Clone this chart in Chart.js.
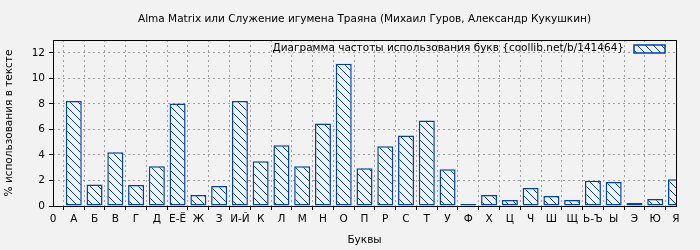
<!DOCTYPE html>
<html><head><meta charset="utf-8">
<script src="https://cdn.jsdelivr.net/npm/chart.js@4/dist/chart.umd.min.js"></script>
<style>html,body{margin:0;padding:0;background:#f2f2f2;} #w{width:700px;height:250px;}</style>
</head><body><div id="w"><canvas id="c" width="700" height="250"></canvas></div>
<script>
const chartTitle = 'Alma Matrix или Служение игумена Траяна (Михаил Гуров, Александр Кукушкин)';
const seriesLabel = 'Диаграмма частоты использования букв {coollib.net/b/141464}';
const xTitle = 'Буквы';
const yTitle = '% использования в тексте';
const tickLabels = ['0','А','Б','В','Г','Д','Е-Ё','Ж','З','И-Й','К','Л','М','Н','О','П','Р','С','Т','У','Ф','Х','Ц','Ч','Ш','Щ','Ь-Ъ','Ы','Э','Ю','Я'];
const letters = tickLabels.slice(1);
const values = [8.23,1.69,4.21,1.64,3.12,8.03,0.86,1.56,8.23,3.51,4.75,3.12,6.47,11.14,2.96,4.68,5.53,6.70,2.88,0.16,0.86,0.47,1.40,0.78,0.47,1.97,1.87,0.23,0.55,2.10];

const BLUE = '#0040b0';
const BG = '#f2f2f2';
const FONT = "'DejaVu Sans', sans-serif";

function hatch(){
  const p = document.createElement('canvas'); p.width = 8; p.height = 8;
  const g = p.getContext('2d');
  g.fillStyle = BG; g.fillRect(0,0,8,8);
  g.strokeStyle = BLUE; g.lineWidth = 1;
  g.beginPath();
  g.moveTo(-1,-1); g.lineTo(9,9);
  g.moveTo(-1,7); g.lineTo(1,9);
  g.moveTo(7,-1); g.lineTo(9,1);
  g.stroke();
  return g.createPattern(p,'repeat');
}
const pattern = hatch();

const bgPlugin = {
  id:'bg',
  beforeDraw(chart){ const c=chart.ctx; c.save(); c.fillStyle=BG; c.fillRect(0,0,chart.width,chart.height); c.restore(); }
};
const framePlugin = {
  id:'frame',
  afterDraw(chart){
    const a=chart.chartArea, c=chart.ctx;
    c.save(); c.strokeStyle='#000'; c.lineWidth=1;
    c.strokeRect(Math.round(a.left)+0.5, Math.round(a.top)+0.5, Math.round(a.right-a.left), Math.round(a.bottom-a.top));
    // title, centred over the plot area
    c.font = "10.5px " + FONT; c.fillStyle='#000'; c.textAlign='center'; c.textBaseline='middle';
    c.fillText(chartTitle, (a.left+a.right)/2, 19);
    // legend
    const label = chart.data.datasets[0].label;
    c.textAlign='right';
    c.fillText(label, a.right-52, a.top+8);
    c.fillStyle = pattern; c.fillRect(a.right-42, a.top+5, 31, 8);
    c.strokeStyle = BLUE; c.lineWidth = 1.5; c.strokeRect(a.right-42, a.top+5, 31, 8);
    c.restore();
  }
};

new Chart(document.getElementById('c'), {
  type:'bar',
  data:{ datasets:[{
    label: seriesLabel,
    data: letters.map((l,i)=>({x:i+1, y:values[i]})),
    backgroundColor: pattern,
    borderColor: BLUE,
    borderWidth: 1.5,
    borderSkipped: false,
    barPercentage: 0.77,
    categoryPercentage: 1
  }]},
  options:{
    responsive:false, animation:false, devicePixelRatio:1,
    layout:{ padding:{ left:0, right:24, top:40, bottom:0 } },
    plugins:{
      legend:{ display:false },
      tooltip:{ enabled:false },
      title:{ display:false }
    },
    scales:{
      x:{ type:'linear', min:0, max:30, offset:false,
        ticks:{ stepSize:1, autoSkip:false, maxRotation:0, minRotation:0, includeBounds:false,
          color:'#000', font:{ family:FONT, size:10.5 }, padding:3,
          callback:(v)=>tickLabels[v] },
        grid:{ color:'#a0a0a0', tickColor:'#000', tickLength:4, lineWidth:1 },
        border:{ display:false, dash:[2,3] },
        title:{ display:true, text:xTitle, color:'#000', font:{ family:FONT, size:10.5 }, padding:{ top:2, bottom:3 } },
        afterFit(s){ s.height = 44; }
      },
      y:{ min:0, max:13,
        ticks:{ stepSize:2, includeBounds:false, color:'#000', font:{ family:FONT, size:10.5 }, padding:4 },
        grid:{ color:'#a0a0a0', tickColor:'#000', tickLength:4, lineWidth:1 },
        border:{ display:false, dash:[2,3] },
        title:{ display:true, text:yTitle, color:'#000', font:{ family:FONT, size:10.5 }, padding:{ top:3, bottom:0 } },
        afterFit(s){ s.width = 53; }
      }
    }
  },
  plugins:[bgPlugin, framePlugin]
});
</script>
</body></html>
